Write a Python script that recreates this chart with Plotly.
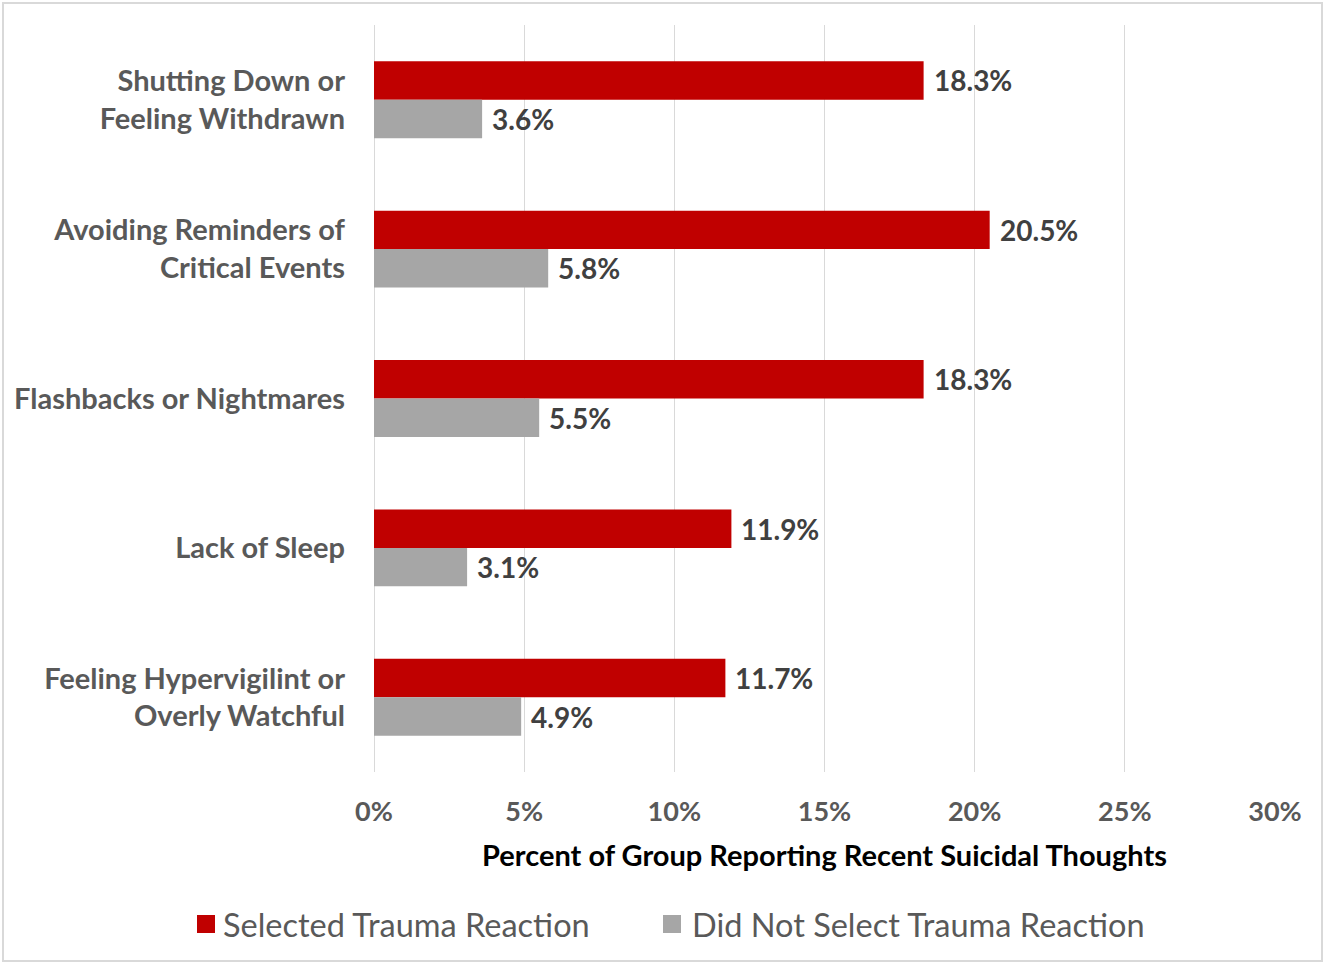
import plotly.graph_objects as go

categories = [
    "Shutting Down or<br>Feeling Withdrawn",
    "Avoiding Reminders of<br>Critical Events",
    "Flashbacks or Nightmares",
    "Lack of Sleep",
    "Feeling Hypervigilint or<br>Overly Watchful",
]
selected = [18.3, 20.5, 18.3, 11.9, 11.7]
not_selected = [3.6, 5.8, 5.5, 3.1, 4.9]
series_names = ["Selected Trauma Reaction", "Did Not Select Trauma Reaction"]
x_ticks = [0, 5, 10, 15, 20, 25, 30]

RED = "#C00000"
GRAY = "#A6A6A6"
FONT = "Lato"

W, H = 1324, 963
ML, MR, MT, MB = 374, 49, 25, 191
BARGAP = 0.485

fig = go.Figure()
fig.add_trace(go.Bar(y=categories, x=selected, name=series_names[0], orientation="h",
                     marker=dict(color=RED, line=dict(width=0))))
fig.add_trace(go.Bar(y=categories, x=not_selected, name=series_names[1], orientation="h",
                     marker=dict(color=GRAY, line=dict(width=0))))

# value labels just past the end of each bar
half = (1 - BARGAP) / 4
for i, (a, b) in enumerate(zip(selected, not_selected)):
    for val, off in ((a, -half), (b, half)):
        fig.add_annotation(x=val, y=i + off, xref="x", yref="y", text=f"<b>{val:.1f}%</b>",
                           showarrow=False, xanchor="left", yanchor="middle", xshift=8,
                           font=dict(family=FONT, size=28, color="#404040"))

# pixel -> paper helpers for items placed outside the plot area
pw = W - ML - MR
ph = H - MT - MB
def px_x(p):
    return (p - ML) / pw
def px_y(p):
    return (H - MB - p) / ph

# outer frame around the whole chart
fig.add_shape(type="rect", xref="paper", yref="paper",
              x0=px_x(3), x1=px_x(1322), y0=px_y(961), y1=px_y(3),
              line=dict(color="#D9D9D9", width=2), fillcolor="rgba(0,0,0,0)", layer="below")

# legend drawn as swatches + labels under the axis title
legend_items = [(series_names[0], RED, 197, 221), (series_names[1], GRAY, 663, 690)]
for name, color, sw_left, text_left in legend_items:
    fig.add_shape(type="rect", xref="paper", yref="paper",
                  x0=px_x(sw_left), x1=px_x(sw_left + 18), y0=px_y(933), y1=px_y(915),
                  line=dict(width=0), fillcolor=color)
    fig.add_annotation(x=px_x(text_left), y=px_y(924), xref="paper", yref="paper",
                       text=name, showarrow=False, xanchor="left", yanchor="middle",
                       font=dict(family=FONT, size=32.5, color="#595959"))

fig.update_layout(
    width=W, height=H,
    margin=dict(l=ML, r=MR, t=MT, b=MB),
    paper_bgcolor="white", plot_bgcolor="white",
    barmode="group", bargap=BARGAP, bargroupgap=0,
    showlegend=False,
    font=dict(family=FONT, color="#595959"),
    xaxis=dict(range=[0, 30.0001], tickvals=x_ticks, ticktext=[f"{t}%" for t in x_ticks],
               showgrid=True, gridcolor="#D9D9D9", gridwidth=1,
               zeroline=True, zerolinecolor="#D9D9D9", zerolinewidth=1,
               showline=False, ticks="", ticklabelstandoff=21,
               tickfont=dict(family=FONT, size=27, color="#595959", weight="bold"),
               title=dict(text="<b>Percent of Group Reporting Recent Suicidal Thoughts</b>",
                          font=dict(family=FONT, size=29, color="#000000"), standoff=19)),
    yaxis=dict(autorange="reversed", showgrid=False, showline=False, ticks="",
               ticklabelstandoff=28,
               tickfont=dict(family=FONT, size=29, color="#595959", weight="bold")),
)

fig.write_html("out.html")
